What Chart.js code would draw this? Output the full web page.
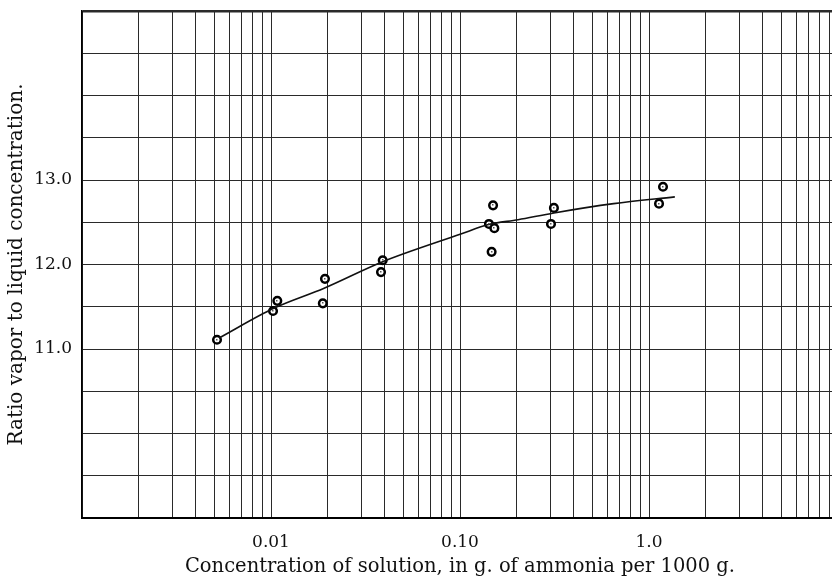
<!DOCTYPE html>
<html>
<head>
<meta charset="utf-8">
<script src="https://cdn.jsdelivr.net/npm/chart.js@4"></script>
<style>
  html, body { margin: 0; padding: 0; background: #fff; overflow: hidden; }
  #wrap { width: 850px; height: 579px; }
</style>
</head>
<body>
<div id="wrap"><canvas id="ratioChart" width="850" height="579"></canvas></div>
<script>
// Measured points (concentration g NH3 / 1000 g, ratio vapor/liquid)
const pointX = [0.00518, 0.01025, 0.0108, 0.0188, 0.0193, 0.0382, 0.0390, 0.1423, 0.1496, 0.152, 0.147, 0.303, 0.314, 1.13, 1.186];
const pointY = [11.11, 11.45, 11.57, 11.54, 11.83, 11.91, 12.05, 12.48, 12.70, 12.43, 12.15, 12.48, 12.67, 12.72, 12.92];

// Smooth curve drawn through the data
const curveX = [0.00531, 0.0104, 0.0191, 0.0387, 0.101, 0.140, 0.203, 0.314, 0.65, 1.37];
const curveY = [11.13, 11.485, 11.72, 12.03, 12.36, 12.47, 12.53, 12.61, 12.72, 12.80];

// Log paper grid: 1..9 in each decade
const decades = [0.001, 0.01, 0.1, 1];
const multipliers = [1, 2, 3, 4, 5, 6, 7, 8, 9];
const xTickLabels = { '0.01': '0.01', '0.1': '0.10', '1': '1.0' };
const yTickLabels = [11, 12, 13];

const serif = '"DejaVu Serif", "Liberation Serif", serif';

const gridValues = [];
decades.forEach(d => multipliers.forEach(m => gridValues.push(+(d * m).toPrecision(3))));
gridValues.push(10);

// little dot in the middle of each circle
const centerDots = {
    id: 'centerDots',
    afterDatasetsDraw(chart) {
        const meta = chart.getDatasetMeta(1);
        const c = chart.ctx;
        c.save();
        c.fillStyle = '#555';
        meta.data.forEach(pt => {
            c.fillRect(Math.round(pt.x) - 1, Math.round(pt.y) - 1, 1.5, 1.5);
        });
        c.restore();
    }
};

const ctx = document.getElementById('ratioChart').getContext('2d');
new Chart(ctx, {
    type: 'scatter',
    data: {
        datasets: [{
            type: 'line',
            data: curveX.map((x, i) => ({ x: x, y: curveY[i] })),
            borderColor: '#111',
            borderWidth: 1.6,
            pointRadius: 0,
            cubicInterpolationMode: 'monotone',
            fill: false
        }, {
            data: pointX.map((x, i) => ({ x: x, y: pointY[i] })),
            pointStyle: 'circle',
            pointRadius: 3.8,
            borderWidth: 2.5,
            borderColor: '#000',
            backgroundColor: '#fff'
        }]
    },
    options: {
        responsive: false,
        animation: false,
        layout: { padding: { left: 0, top: 11, right: 12, bottom: 0 } },
        plugins: { legend: { display: false }, tooltip: { enabled: false } },
        scales: {
            x: {
                type: 'logarithmic',
                min: 0.001,
                max: 10,
                afterBuildTicks: scale => { scale.ticks = gridValues.map(v => ({ value: v })); },
                afterFit: scale => { scale.height = 61; scale.paddingLeft = 0; scale.paddingRight = 0; },
                grid: { color: '#2a2a2a', lineWidth: 1, drawTicks: false },
                border: { display: true, color: '#000', width: 2 },
                ticks: {
                    autoSkip: false,
                    maxRotation: 0,
                    padding: 14,
                    color: '#111',
                    font: { family: serif, size: 17 },
                    callback: v => xTickLabels[String(+v.toPrecision(3))] || ''
                },
                title: {
                    display: true,
                    text: 'Concentration of solution, in g. of ammonia per 1000 g.',
                    color: '#111',
                    font: { family: serif, size: 19.5 },
                    padding: { top: 0, bottom: 0 }
                }
            },
            y: {
                min: 9,
                max: 15,
                afterFit: scale => { scale.width = 82; scale.paddingTop = 0; scale.paddingBottom = 0; },
                grid: {
                    color: '#2a2a2a',
                    drawTicks: false,
                    lineWidth: c => (c.tick && c.tick.value === 15 ? 2.5 : 1)
                },
                border: { display: true, color: '#000', width: 1.5 },
                ticks: {
                    stepSize: 0.5,
                    padding: 10,
                    color: '#111',
                    font: { family: serif, size: 17 },
                    callback: v => (yTickLabels.includes(v) ? v.toFixed(1) : '')
                },
                title: {
                    display: true,
                    text: 'Ratio vapor to liquid concentration.',
                    color: '#111',
                    font: { family: serif, size: 20 },
                    padding: { top: 5, bottom: 0 }
                }
            }
        }
    },
    plugins: [centerDots]
});
</script>
</body>
</html>
